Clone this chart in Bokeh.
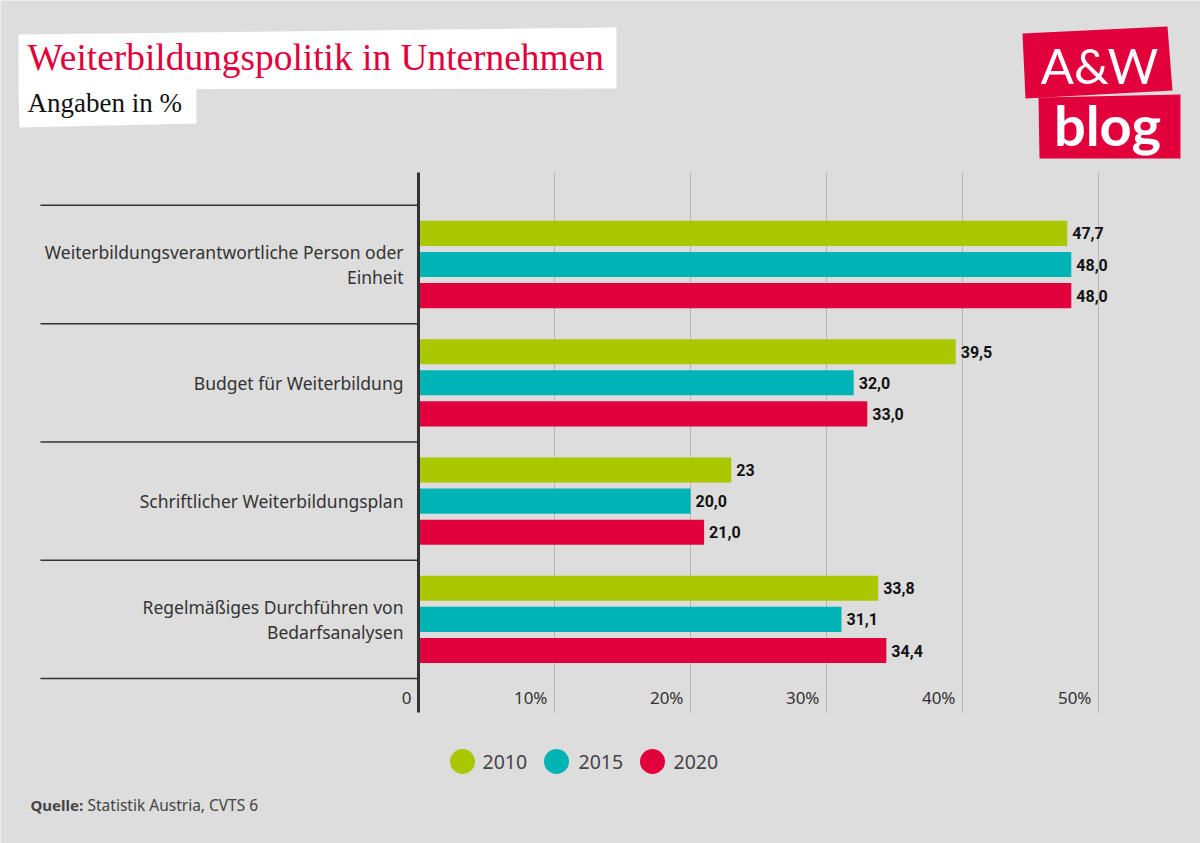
from bokeh.plotting import figure
from bokeh.models import Range1d, Label, PolyAnnotation, ColumnDataSource
from bokeh.core.properties import value
from bokeh.embed import file_html
from bokeh.resources import INLINE

# ---------------- data ----------------
categories = [
    "Weiterbildungsverantwortliche Person oder\nEinheit",
    "Budget für Weiterbildung",
    "Schriftlicher Weiterbildungsplan",
    "Regelmäßiges Durchführen von\nBedarfsanalysen",
]
years = ["2010", "2015", "2020"]
v2010 = [47.7, 39.5, 23.0, 33.8]
v2015 = [48.0, 32.0, 20.0, 31.1]
v2020 = [48.0, 33.0, 21.0, 34.4]
l2010 = ["47,7", "39,5", "23", "33,8"]
l2015 = ["48,0", "32,0", "20,0", "31,1"]
l2020 = ["48,0", "33,0", "21,0", "34,4"]
tick_values = [0, 10, 20, 30, 40, 50]
tick_labels = ["0", "10%", "20%", "30%", "40%", "50%"]

title = "Weiterbildungspolitik in Unternehmen"
subtitle = "Angaben in %"
source_bold = "Quelle:"
source_text = "Statistik Austria, CVTS 6"

# ---------------- style / layout ----------------
BG = "#dddddd"
RED = "#e2003c"
colors = ["#abc700", "#00b4b6", "#e2003c"]
TXT = "#333333"
SANS = "Noto Sans"

W, H = 1200, 843
X0_PX, PX_PER_UNIT = 418, 13.6
Y0_PX, PX_PER_CAT = 264, 118.3
PLOT_TOP_PX, PLOT_BOT_PX = 172, 712
SEP_LEFT_PX = 40
LEGEND_Y_PX = 761
LEGEND_DOT_PX = [462, 556, 652]
LEGEND_TXT_PX = [482, 578, 673]


def sy(y):  # pixel from top -> bokeh screen units (from bottom)
    return H - y


def dx(px):  # pixel from left -> data x
    return (px - X0_PX) / PX_PER_UNIT


def dy(py):  # pixel from top -> data y
    return (py - Y0_PX) / PX_PER_CAT


p = figure(width=W, height=H, output_backend="svg", toolbar_location=None,
           x_axis_type=None, y_axis_type=None,
           x_range=Range1d(dx(0), dx(W)),
           y_range=Range1d(dy(H), dy(0)),
           min_border=0, outline_line_color=None,
           background_fill_color=BG, border_fill_color=BG)
p.grid.visible = False

y_top = dy(PLOT_TOP_PX)
y_bot = dy(PLOT_BOT_PX)
x_sep = dx(SEP_LEFT_PX)
n = len(categories)

# vertical grid lines
gx = tick_values[1:]
p.segment(x0=gx, x1=gx, y0=[y_top] * len(gx), y1=[y_bot] * len(gx),
          line_color="#b4b4b4", line_width=1)

# category separators
seps = [i - 0.5 for i in range(n + 1)]
p.segment(x0=[x_sep] * len(seps), x1=[0] * len(seps), y0=seps, y1=seps,
          line_color="#333333", line_width=1.5)

# bars
offsets = [-0.263, 0.0, 0.263]
bar_h = 0.212
series = [v2010, v2015, v2020]
labels = [l2010, l2015, l2020]
for vals, labs, off, col in zip(series, labels, offsets, colors):
    ys = [i + off for i in range(n)]
    src = ColumnDataSource(dict(y=ys, right=vals, lab=labs))
    p.hbar(y="y", left=0, right="right", height=bar_h, source=src,
           fill_color=col, line_color=None)
    p.text(x="right", y="y", text="lab", source=src, x_offset=5,
           text_baseline="middle", text_align="left",
           text_font=value("Roboto"), text_font_style="bold",
           text_font_size="16px", text_color="#111111")

# zero axis line
p.segment(x0=[0], x1=[0], y0=[y_top], y1=[y_bot], line_color="#333333", line_width=3)

# tick labels (right-aligned just left of grid lines)
p.text(x=tick_values, y=[y_bot] * len(tick_values), text=tick_labels,
       x_offset=-7, y_offset=-15, text_align="right", text_baseline="middle",
       text_font=value(SANS), text_font_size="17px", text_color=TXT)

# category labels
p.text(x=[0] * n, y=list(range(n)), text=categories, x_offset=-15,
       text_align="right", text_baseline="middle", text_line_height=1.07,
       text_font=value(SANS), text_font_size="17.5px", text_color=TXT)

# legend (circle markers + labels)
ly = [dy(LEGEND_Y_PX)] * len(years)
p.scatter(x=[dx(v) for v in LEGEND_DOT_PX], y=ly, marker="circle", size=25,
          fill_color=colors, line_color=None)
p.text(x=[dx(v) for v in LEGEND_TXT_PX], y=ly, text=years,
       text_align="left", text_baseline="middle",
       text_font=value(SANS), text_font_size="19.5px", text_color="#444444")

# title boxes
p.add_layout(PolyAnnotation(xs=[18, 616, 616, 18], ys=[sy(34), sy(27), sy(88), sy(89)],
                            xs_units="screen", ys_units="screen",
                            fill_color="white", fill_alpha=1, line_color=None))
p.add_layout(PolyAnnotation(xs=[18, 196, 196, 19], ys=[sy(88), sy(88), sy(123), sy(127)],
                            xs_units="screen", ys_units="screen",
                            fill_color="white", fill_alpha=1, line_color=None))
p.add_layout(Label(x=27, y=sy(57), x_units="screen", y_units="screen", text=title,
                   text_font="Liberation Serif", text_font_size="37.4px",
                   text_color=RED, text_baseline="alphabetic"))
p.add_layout(Label(x=27, y=sy(102), x_units="screen", y_units="screen", text=subtitle,
                   text_font="Liberation Serif", text_font_size="27px",
                   text_color="#111111", text_baseline="alphabetic"))

# logo
p.add_layout(PolyAnnotation(xs=[1022, 1167, 1172, 1025], ys=[sy(33), sy(26), sy(90), sy(98)],
                            xs_units="screen", ys_units="screen",
                            fill_color=RED, fill_alpha=1, line_color=None))
p.add_layout(PolyAnnotation(xs=[1038, 1180, 1180, 1039], ys=[sy(97), sy(94), sy(158), sy(158)],
                            xs_units="screen", ys_units="screen",
                            fill_color=RED, fill_alpha=1, line_color=None))
p.add_layout(Label(x=1099, y=sy(64), x_units="screen", y_units="screen", text="A&W",
                   text_font="Lato", text_font_size="49px", text_color="white",
                   text_align="center", text_baseline="alphabetic"))
p.add_layout(Label(x=1107, y=sy(124), x_units="screen", y_units="screen", text="blog",
                   text_font="Lato", text_font_style="bold", text_font_size="56px",
                   text_color="white", text_align="center", text_baseline="alphabetic"))

# source
p.add_layout(Label(x=30, y=sy(804), x_units="screen", y_units="screen", text=source_bold,
                   text_font=SANS, text_font_style="bold", text_font_size="15px",
                   text_color="#444444", text_baseline="alphabetic"))
p.add_layout(Label(x=87, y=sy(804), x_units="screen", y_units="screen", text=source_text,
                   text_font=SANS, text_font_size="15.5px",
                   text_color="#444444", text_baseline="alphabetic"))

open("out.html", "w").write(file_html(p, INLINE))
